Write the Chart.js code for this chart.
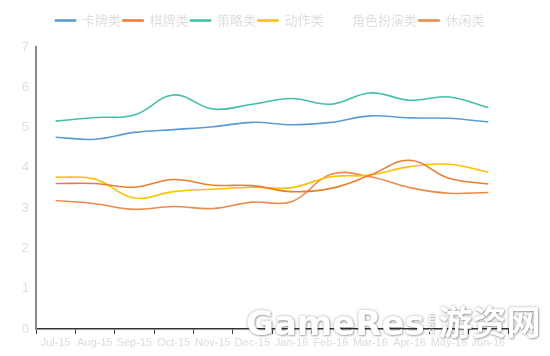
<!DOCTYPE html>
<html>
<head>
<meta charset="utf-8">
<script src="https://cdn.jsdelivr.net/npm/chart.js@4/dist/chart.umd.min.js"></script>
<style>
html,body{margin:0;padding:0;background:#fff;}
#wrap{position:relative;width:550px;height:356px;}
#wm{position:absolute;left:246px;top:296px;font-family:"DejaVu Sans","Noto Sans CJK SC",sans-serif;font-weight:bold;font-size:34px;color:#fff;text-shadow:0 0 3px rgba(0,0,0,0.35),1px 1px 2px rgba(0,0,0,0.25);white-space:nowrap;pointer-events:none;}
#wm .c{font-size:8px;display:inline-block;transform:rotate(-90deg);vertical-align:middle;margin:0 -4px;}
</style>
</head>
<body>
<div id="wrap">
<canvas id="c" width="550" height="356"></canvas>
<div id="wm">GameRes<span class="c">.com</span>游资网</div>
</div>
<script>
const categories = ["Jul-15","Aug-15","Sep-15","Oct-15","Nov-15","Dec-15","Jan-16","Feb-16","Mar-16","Apr-16","May-16","Jun-16"];
const cardGames     = [4.76,4.71,4.88,4.95,5.02,5.13,5.07,5.13,5.29,5.24,5.23,5.14];
const boardGames    = [3.61,3.61,3.52,3.71,3.57,3.56,3.41,3.49,3.82,4.19,3.74,3.60];
const strategyGames = [5.16,5.25,5.31,5.81,5.46,5.58,5.72,5.58,5.86,5.68,5.76,5.50];
const actionGames   = [3.77,3.72,3.25,3.41,3.47,3.52,3.51,3.78,3.82,4.03,4.09,3.89];
const rpgGames      = [];
const casualGames   = [3.19,3.11,2.97,3.04,2.99,3.15,3.16,3.84,3.78,3.51,3.37,3.39];
const seriesNames = ["卡牌类","棋牌类","策略类","动作类","角色扮演类","休闲类"];
const yTicks = [0,1,2,3,4,5,6,7];

const colors = ["#5b9bd5","#ed7d31","#3fc1aa","#ffc000","rgba(0,0,0,0)","#f08a4b"];
const seriesData = [cardGames,boardGames,strategyGames,actionGames,rpgGames,casualGames];

const legendFit = {
  id:'legendFit',
  beforeInit(chart){
    const orig = chart.legend.fit;
    chart.legend.fit = function(){ orig.call(this); this.height = 35; };
  },
  afterLayout(chart){
    chart.legend.left += 16;
    chart.legend.right += 16;
  }
};

new Chart(document.getElementById('c'), {
  type:'line',
  data:{
    labels:categories,
    datasets:seriesNames.map((n,i)=>({
      label:n,
      data:seriesData[i],
      borderColor:colors[i],
      backgroundColor:colors[i],
      borderWidth:1.6,
      pointRadius:0,
      tension:0.4,
      fill:false
    }))
  },
  options:{
    responsive:false,
    animation:false,
    layout:{padding:{top:12,right:42,left:0,bottom:0}},
    plugins:{
      legend:{
        position:'top',
        labels:{
          boxWidth:20,
          boxHeight:1,
          padding:2,
          color:'#dedede',
          font:{family:"'Noto Sans CJK SC', sans-serif",size:13}
        }
      },
      tooltip:{enabled:false}
    },
    scales:{
      x:{
        offset:true,
        grid:{display:true,offset:true,drawOnChartArea:false,drawTicks:true,tickLength:5,color:'#444',lineWidth:1},
        border:{display:true,color:'#333',width:1.5},
        ticks:{color:'#dcdcdc',font:{family:"'Liberation Sans Narrow','Liberation Sans',sans-serif",size:11},maxRotation:0,autoSkip:false,padding:2},
        afterFit(s){ s.height = 27; }
      },
      y:{
        min:0,max:7,
        afterBuildTicks(s){ s.ticks = yTicks.map(v=>({value:v})); },
        grid:{display:false,drawTicks:false},
        border:{display:true,color:'#8a8a8a',width:2},
        ticks:{color:'#e0e0e0',font:{family:"'Liberation Sans Narrow','Liberation Sans',sans-serif",size:13},padding:7},
        afterFit(s){ s.width = 36; }
      }
    }
  },
  plugins:[legendFit]
});
</script>
</body>
</html>
